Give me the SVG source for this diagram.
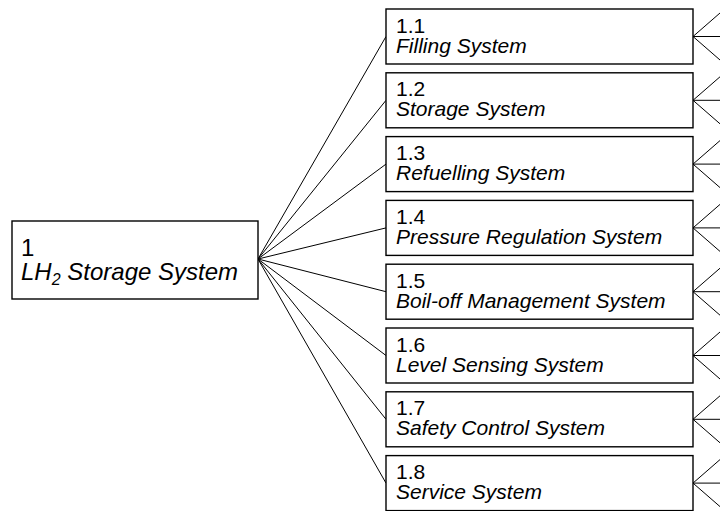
<svg xmlns="http://www.w3.org/2000/svg" width="720" height="511" viewBox="0 0 720 511">
<style>
.box{fill:#fff;stroke:#000;stroke-width:1.4}
.t{font-family:"Liberation Sans",Arial,sans-serif;font-size:21px;fill:#000}
.m{font-size:24px}
.i{font-style:italic}
.c line{stroke:#000;stroke-width:1}
</style>
<rect width="720" height="511" fill="#fff"/>
<g class="c" id="connectors">
<line x1="258" y1="259" x2="386" y2="36.5"/>
<line x1="258" y1="259" x2="386" y2="100.3"/>
<line x1="258" y1="259" x2="386" y2="164.1"/>
<line x1="258" y1="259" x2="386" y2="227.9"/>
<line x1="258" y1="259" x2="386" y2="291.7"/>
<line x1="258" y1="259" x2="386" y2="355.5"/>
<line x1="258" y1="259" x2="386" y2="419.3"/>
<line x1="258" y1="259" x2="386" y2="483.1"/>
<g id="fan1"><line x1="693" y1="36.5" x2="730" y2="4.3"/><line x1="693" y1="36.5" x2="730" y2="36.5"/><line x1="693" y1="36.5" x2="730" y2="68.7"/></g>
<g id="fan2"><line x1="693" y1="100.3" x2="730" y2="68.1"/><line x1="693" y1="100.3" x2="730" y2="100.3"/><line x1="693" y1="100.3" x2="730" y2="132.5"/></g>
<g id="fan3"><line x1="693" y1="164.1" x2="730" y2="131.9"/><line x1="693" y1="164.1" x2="730" y2="164.1"/><line x1="693" y1="164.1" x2="730" y2="196.3"/></g>
<g id="fan4"><line x1="693" y1="227.9" x2="730" y2="195.7"/><line x1="693" y1="227.9" x2="730" y2="227.9"/><line x1="693" y1="227.9" x2="730" y2="260.1"/></g>
<g id="fan5"><line x1="693" y1="291.7" x2="730" y2="259.5"/><line x1="693" y1="291.7" x2="730" y2="291.7"/><line x1="693" y1="291.7" x2="730" y2="323.9"/></g>
<g id="fan6"><line x1="693" y1="355.5" x2="730" y2="323.3"/><line x1="693" y1="355.5" x2="730" y2="355.5"/><line x1="693" y1="355.5" x2="730" y2="387.7"/></g>
<g id="fan7"><line x1="693" y1="419.3" x2="730" y2="387.1"/><line x1="693" y1="419.3" x2="730" y2="419.3"/><line x1="693" y1="419.3" x2="730" y2="451.5"/></g>
<g id="fan8"><line x1="693" y1="483.1" x2="730" y2="450.9"/><line x1="693" y1="483.1" x2="730" y2="483.1"/><line x1="693" y1="483.1" x2="730" y2="515.3"/></g>
</g>
<g id="n1">
<rect class="box" x="12" y="221" width="246" height="78"/>
<text class="t m"><tspan x="21" y="256">1</tspan><tspan class="i" x="21" y="280">LH</tspan><tspan class="i" font-size="16" dy="5">2</tspan><tspan class="i" dy="-5"> Storage System</tspan></text>
</g>
<g id="n1_1"><rect class="box" x="386" y="9" width="307" height="55"/><text class="t"><tspan x="396" y="32.5">1.1</tspan><tspan class="i" x="396" y="52.5">Filling System</tspan></text></g>
<g id="n1_2"><rect class="box" x="386" y="72.8" width="307" height="55"/><text class="t"><tspan x="396" y="96.3">1.2</tspan><tspan class="i" x="396" y="116.3">Storage System</tspan></text></g>
<g id="n1_3"><rect class="box" x="386" y="136.6" width="307" height="55"/><text class="t"><tspan x="396" y="160.1">1.3</tspan><tspan class="i" x="396" y="180.1">Refuelling System</tspan></text></g>
<g id="n1_4"><rect class="box" x="386" y="200.4" width="307" height="55"/><text class="t"><tspan x="396" y="223.9">1.4</tspan><tspan class="i" x="396" y="243.9">Pressure Regulation System</tspan></text></g>
<g id="n1_5"><rect class="box" x="386" y="264.2" width="307" height="55"/><text class="t"><tspan x="396" y="287.7">1.5</tspan><tspan class="i" x="396" y="307.7">Boil-off Management System</tspan></text></g>
<g id="n1_6"><rect class="box" x="386" y="328" width="307" height="55"/><text class="t"><tspan x="396" y="351.5">1.6</tspan><tspan class="i" x="396" y="371.5">Level Sensing System</tspan></text></g>
<g id="n1_7"><rect class="box" x="386" y="391.8" width="307" height="55"/><text class="t"><tspan x="396" y="415.3">1.7</tspan><tspan class="i" x="396" y="435.3">Safety Control System</tspan></text></g>
<g id="n1_8"><rect class="box" x="386" y="455.6" width="307" height="55"/><text class="t"><tspan x="396" y="479.1">1.8</tspan><tspan class="i" x="396" y="499.1">Service System</tspan></text></g>
</svg>
